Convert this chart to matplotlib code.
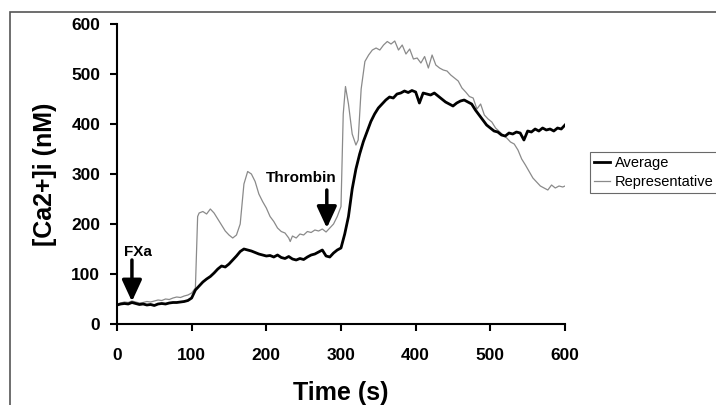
import matplotlib
matplotlib.use('Agg')
import matplotlib.pyplot as plt
from matplotlib.patches import Rectangle

plt.rcParams['font.family'] = ['Liberation Sans', 'DejaVu Sans']

# temps (s) et [Ca2+]i moyen (nM)
t_avg = list(range(0, 605, 5))
y_avg = [38, 40, 41, 40, 43, 41, 39, 40, 38, 39,
         37, 40, 41, 40, 42, 43, 43, 44, 45, 47,
         52, 68, 76, 84, 90, 95, 102, 110, 116, 114,
         120, 128, 136, 145, 150, 148, 146, 143, 140, 138,
         136, 137, 134, 138, 133, 131, 135, 130, 128, 131,
         129, 134, 138, 140, 144, 148, 136, 134, 142, 148,
         152, 180, 215, 270, 310, 340, 365, 385, 405, 420,
         432, 440, 448, 454, 452, 460, 462, 466, 463, 467,
         464, 442, 462, 460, 458, 462, 456, 450, 444, 440,
         436, 442, 446, 448, 444, 440, 428, 418, 408, 398,
         392, 386, 384, 378, 376, 382, 380, 384, 382, 368,
         386, 384, 390, 386, 392, 388, 390, 386, 392, 390,
         398]

# trace représentative
t_rep = [0, 5, 10, 15, 20, 25, 30, 35, 40, 45, 50, 55, 60, 65, 70, 75, 80, 85, 90, 95,
         100, 105, 108, 110, 115, 120, 125, 130, 135, 140, 145, 150, 155, 160, 165, 170,
         175, 180, 185, 190, 195, 200, 205, 210, 215, 220, 225, 230, 232, 235, 240, 245,
         250, 255, 260, 265, 270, 275, 280, 285, 290, 295, 300, 303, 306, 310, 315, 320,
         323, 327, 332, 337, 342, 347, 352, 357, 362, 367, 372, 377, 382, 387, 392, 397,
         402, 407, 412, 417, 422, 427, 432, 437, 442, 447, 452, 457, 462, 467, 472, 477,
         482, 487, 492, 497, 502, 507, 512, 517, 522, 527, 532, 537, 542, 547, 552, 557,
         562, 567, 572, 577, 582, 587, 592, 597, 600]
y_rep = [40, 42, 44, 43, 46, 44, 42, 43, 45, 44, 46, 48, 47, 50, 49, 52, 54, 53, 56, 58,
         62, 72, 215, 222, 225, 220, 230, 222, 210, 198, 186, 178, 172, 178, 200, 280,
         305, 300, 285, 260, 245, 232, 215, 205, 192, 185, 182, 172, 165, 176, 172, 180,
         178, 185, 183, 188, 186, 190, 184, 192, 200, 215, 235, 420, 475, 440, 380, 358,
         368, 470, 525, 538, 548, 552, 548, 558, 565, 560, 566, 548, 558, 540, 550, 530,
         532, 522, 535, 512, 538, 518, 512, 508, 506, 498, 492, 486, 472, 464, 455, 452,
         430, 440, 418, 410, 404, 392, 385, 378, 372, 364, 360, 348, 330, 318, 305, 292,
         284, 276, 272, 268, 278, 272, 276, 274, 276]

fig = plt.figure(figsize=(7.16, 4.05), dpi=100)
ax = fig.add_axes([0.1634, 0.2, 0.6257, 0.7407])

ax.plot(t_rep, y_rep, color='#8a8a8a', lw=0.9, label='Representative')
ax.plot(t_avg, y_avg, color='black', lw=2.0, label='Average')

ax.set_xlim(0, 600)
ax.set_ylim(0, 600)
ax.set_xticks(range(0, 700, 100))
ax.set_yticks(range(0, 700, 100))
for s in ['top', 'right']:
    ax.spines[s].set_visible(False)
for s in ['left', 'bottom']:
    ax.spines[s].set_linewidth(1.5)
ax.tick_params(direction='out', length=5, width=1.5)
ax.tick_params(axis='x', pad=12)
ax.tick_params(axis='y', pad=7)
for lab in ax.get_xticklabels() + ax.get_yticklabels():
    lab.set_fontsize(12.5)
    lab.set_fontweight('bold')

ax.set_xlabel('Time (s)', fontsize=18, fontweight='bold')
ax.set_ylabel('[Ca2+]i (nM)', fontsize=18, fontweight='bold')
ax.xaxis.set_label_coords(0.5, -0.19)
ax.yaxis.set_label_coords(-0.135, 0.5)

# flèches
arr = dict(arrowstyle='-|>,head_length=1.3,head_width=0.6', lw=2.5, color='black',
           shrinkA=0, shrinkB=0)
ax.annotate('', xy=(20, 45), xytext=(20, 128), arrowprops=arr)
ax.text(10, 145, 'FXa', fontsize=11, fontweight='bold', va='center', ha='left')
ax.annotate('', xy=(281, 192), xytext=(281, 268), arrowprops=arr)
ax.text(294, 292, 'Thrombin', fontsize=11, fontweight='bold', va='center', ha='right')

h, l = ax.get_legend_handles_labels()
leg = fig.legend(h[::-1], l[::-1], loc='upper left', bbox_to_anchor=(0.824, 1 - 152 / 405),
                 fontsize=10.5, frameon=True, fancybox=False, handlelength=1.1,
                 handletextpad=0.3, borderpad=0.3, labelspacing=0.3, borderaxespad=0)
leg.get_frame().set_edgecolor('#444444')
leg.get_frame().set_linewidth(0.8)

fig.patches.append(Rectangle((10 / 716, -0.05), 1.1, 1 - 12 / 405 + 0.05,
                             transform=fig.transFigure, fill=False,
                             edgecolor='#555555', lw=1.2))

fig.savefig('out.png', dpi=100)
